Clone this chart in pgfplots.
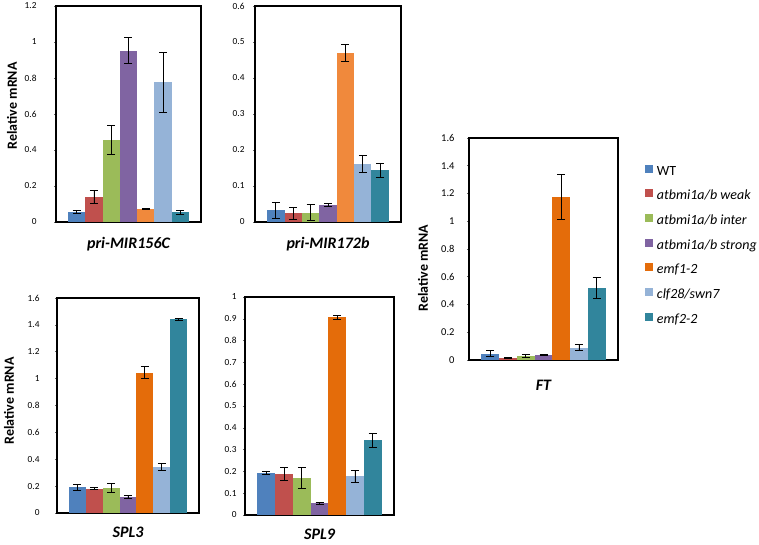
\documentclass[border=0pt]{standalone}
\usepackage{pgfplots}
\pgfplotsset{compat=1.18}
\usepackage{fontspec}
\setmainfont{Carlito}
\definecolor{cWT}{HTML}{4F81BD}
\definecolor{cWeak}{HTML}{C0504D}
\definecolor{cInter}{HTML}{9BBB59}
\definecolor{cStrong}{HTML}{8064A2}
\definecolor{cEmfA}{HTML}{E46C0A}
\definecolor{cEmfAL}{HTML}{F0893C}
\definecolor{cClf}{HTML}{95B3D7}
\definecolor{cEmfB}{HTML}{31859C}
\pgfplotsset{
  mybar/.style={ybar, bar width=1, bar shift=0pt, draw=none, fill=#1,
    /pgfplots/legend image code/.code={\fill[fill=#1] (0pt,-1pt) rectangle (8pt,7pt);}},
  panel/.style={scale only axis, xmin=-0.2, xmax=8.2, ymin=0, xtick=\empty,
    ytick pos=left, tick align=outside, major tick length=2pt,
    axis line style={line width=1.2pt, black},
    ytick style={black!60, line width=0.5pt},
    /pgf/number format/assume math mode=true,
    tick label style={font=\fontsize{9.3}{10}\selectfont},
    error bars/y dir=both, error bars/y explicit,
    error bars/error bar style={line width=0.9pt, black},
    error bars/error mark options={rotate=90, line width=0.9pt, black, mark size=4pt},
    xlabel style={font=\bfseries\itshape\fontsize{16}{16}\selectfont, at={(axis description cs:0.5,0)}, anchor=center},
    ylabel style={font=\bfseries\fontsize{14}{14}\selectfont, anchor=center},
    clip=false}
}
\begin{document}
\begin{tikzpicture}
\useasboundingbox (0pt,0pt) rectangle (759pt,545pt);
% pri-MIR156C
\begin{axis}[panel, at={(56pt,323pt)}, anchor=south west, width=145pt, height=216pt,
  ymax=1.2, ytick={0,0.2,0.4,0.6,0.8,1,1.2},
  yticklabel style={xshift=-14pt},
  xlabel={pri-MIR156C}, xlabel style={yshift=-22pt},
  ylabel={Relative mRNA}, ylabel style={at={(axis description cs:-0.303,0.538)}}]
\addplot[mybar=cWT] coordinates {(1,0.055) +- (0,0.008)};
\addplot[mybar=cWeak] coordinates {(2,0.137) +- (0,0.036)};
\addplot[mybar=cInter] coordinates {(3,0.456) +- (0,0.082)};
\addplot[mybar=cStrong] coordinates {(4,0.952) +- (0,0.071)};
\addplot[mybar=cEmfAL] coordinates {(5,0.072) +- (0,0.004)};
\addplot[mybar=cClf] coordinates {(6,0.776) +- (0,0.166)};
\addplot[mybar=cEmfB] coordinates {(7,0.053) +- (0,0.010)};
\end{axis}
% pri-MIR172b
\begin{axis}[panel, at={(255pt,323pt)}, anchor=south west, width=146pt, height=216pt,
  ymax=0.6, ytick={0,0.1,0.2,0.3,0.4,0.5,0.6},
  yticklabel style={xshift=-5pt},
  xlabel={pri-MIR172b}, xlabel style={yshift=-22pt}]
\addplot[mybar=cWT] coordinates {(1,0.032) +- (0,0.022)};
\addplot[mybar=cWeak] coordinates {(2,0.024) +- (0,0.016)};
\addplot[mybar=cInter] coordinates {(3,0.026) +- (0,0.022)};
\addplot[mybar=cStrong] coordinates {(4,0.047) +- (0,0.004)};
\addplot[mybar=cEmfAL] coordinates {(5,0.470) +- (0,0.023)};
\addplot[mybar=cClf] coordinates {(6,0.162) +- (0,0.023)};
\addplot[mybar=cEmfB] coordinates {(7,0.144) +- (0,0.020)};
\end{axis}
% SPL3
\begin{axis}[panel, at={(57pt,32pt)}, anchor=south west, width=142pt, height=215pt,
  ymax=1.6, ytick={0,0.2,0.4,0.6,0.8,1,1.2,1.4,1.6},
  yticklabel style={xshift=-12pt},
  xlabel={SPL3}, xlabel style={yshift=-19pt},
  ylabel={Relative mRNA}, ylabel style={at={(axis description cs:-0.338,0.522)}}]
\addplot[mybar=cWT] coordinates {(1,0.190) +- (0,0.020)};
\addplot[mybar=cWeak] coordinates {(2,0.182) +- (0,0.005)};
\addplot[mybar=cInter] coordinates {(3,0.188) +- (0,0.035)};
\addplot[mybar=cStrong] coordinates {(4,0.118) +- (0,0.013)};
\addplot[mybar=cEmfA] coordinates {(5,1.045) +- (0,0.042)};
\addplot[mybar=cClf] coordinates {(6,0.343) +- (0,0.024)};
\addplot[mybar=cEmfB] coordinates {(7,1.440) +- (0,0.007)};
\end{axis}
% SPL9
\begin{axis}[panel, at={(245pt,30pt)}, anchor=south west, width=149pt, height=218pt,
  ymax=1, ytick={0,0.1,0.2,0.3,0.4,0.5,0.6,0.7,0.8,0.9,1},
  yticklabel style={xshift=-3pt},
  xlabel={SPL9}, xlabel style={yshift=-19.5pt}]
\addplot[mybar=cWT] coordinates {(1,0.193) +- (0,0.009)};
\addplot[mybar=cWeak] coordinates {(2,0.188) +- (0,0.029)};
\addplot[mybar=cInter] coordinates {(3,0.170) +- (0,0.047)};
\addplot[mybar=cStrong] coordinates {(4,0.053) +- (0,0.003)};
\addplot[mybar=cEmfA] coordinates {(5,0.907) +- (0,0.010)};
\addplot[mybar=cClf] coordinates {(6,0.177) +- (0,0.029)};
\addplot[mybar=cEmfB] coordinates {(7,0.342) +- (0,0.033)};
\end{axis}
% FT
\begin{axis}[panel, at={(469pt,185pt)}, anchor=south west, width=149pt, height=222pt,
  ymax=1.6, ytick={0,0.2,0.4,0.6,0.8,1,1.2,1.4,1.6},
  tick label style={font=\fontsize{10.5}{11}\selectfont},
  yticklabel style={xshift=-9pt},
  xlabel={FT}, xlabel style={yshift=-25pt},
  ylabel={Relative mRNA}, ylabel style={at={(axis description cs:-0.309,0.414)}},
  legend cell align=left,
  legend style={at={(1.181,0.88)}, anchor=north west, draw=none, fill=none,
    inner sep=0pt, outer sep=0pt, row sep=11.2pt, column sep=4pt,
    font=\fontsize{14}{14}\selectfont,
    nodes={inner sep=0pt, text height=10pt, text depth=3pt}}]
\addplot[mybar=cWT] coordinates {(1,0.045) +- (0,0.022)};
\addplot[mybar=cWeak] coordinates {(2,0.016) +- (0,0.004)};
\addplot[mybar=cInter] coordinates {(3,0.027) +- (0,0.010)};
\addplot[mybar=cStrong] coordinates {(4,0.035) +- (0,0.005)};
\addplot[mybar=cEmfA] coordinates {(5,1.175) +- (0,0.165)};
\addplot[mybar=cClf] coordinates {(6,0.090) +- (0,0.021)};
\addplot[mybar=cEmfB] coordinates {(7,0.520) +- (0,0.077)};
\legend{WT, \textit{atbmi1a/b weak}, \textit{atbmi1a/b inter}, \textit{atbmi1a/b strong}, \textit{emf1-2}, \textit{clf28/swn7}, \textit{emf2-2}}
\end{axis}
\end{tikzpicture}
\end{document}
